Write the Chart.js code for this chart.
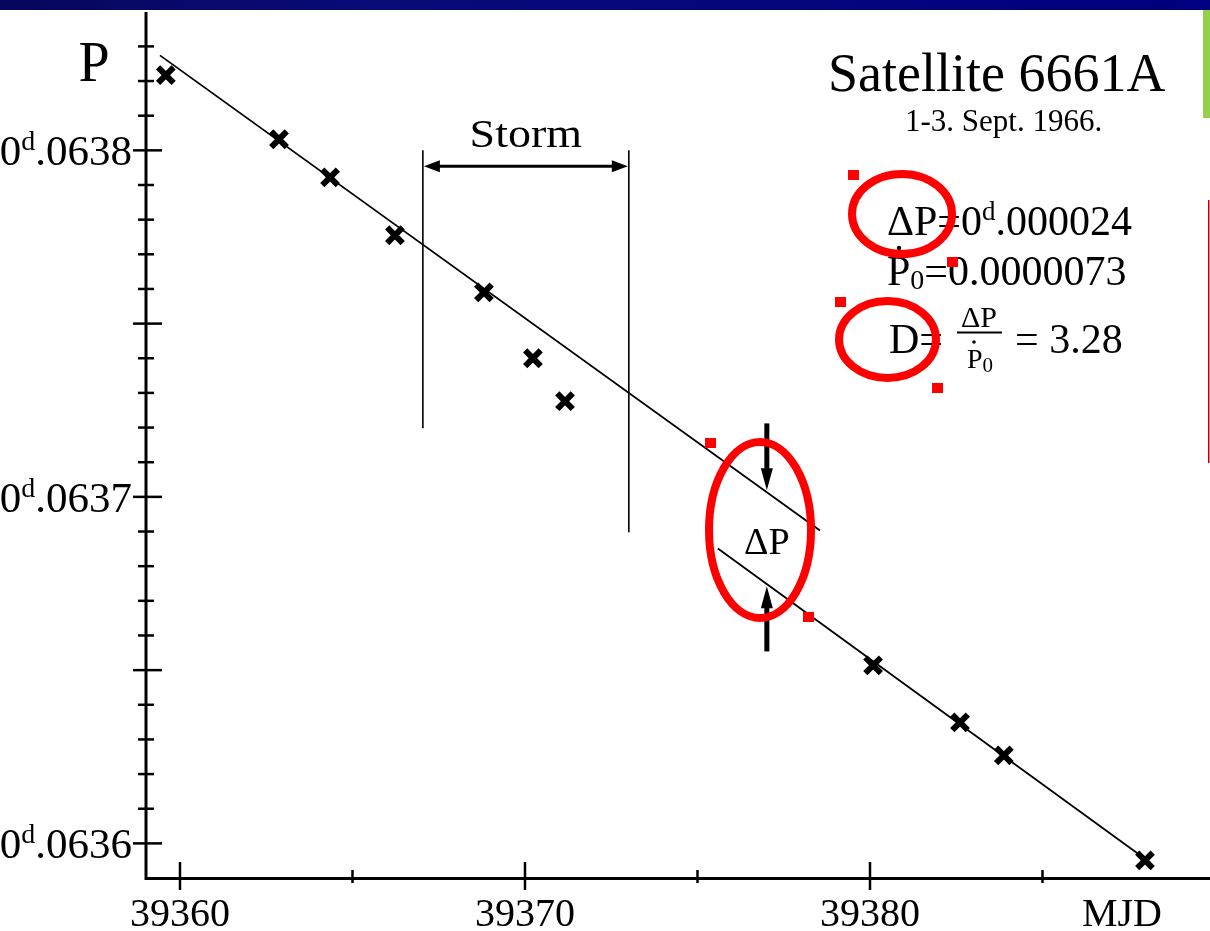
<!DOCTYPE html>
<html>
<head>
<meta charset="utf-8">
<script src="https://cdn.jsdelivr.net/npm/chart.js@4/dist/chart.umd.min.js"></script>
<style>
  html, body { margin: 0; padding: 0; background: #fff; overflow: hidden; }
  #wrap { position: relative; width: 1210px; height: 931px; }
</style>
</head>
<body>
<div id="wrap"><canvas id="chart" width="1210" height="931"></canvas></div>
<script>
// Valores (MJD, periodo en días)
const mjd = [39359.59, 39362.87, 39364.35, 39366.23, 39368.81, 39370.23, 39371.16, 39380.09, 39382.61, 39383.88, 39387.97];
const period = [0.0638217, 0.0638032, 0.0637922, 0.0637755, 0.0637590, 0.0637400, 0.0637276, 0.0636514, 0.0636349, 0.0636254, 0.0635951];

// Rectas de ajuste antes y después de la tormenta
const fitBeforeX = [39359.42, 39378.55];
const fitBeforeY = [0.0638274, 0.0636903];
const fitAfterX = [39375.59, 39388.12];
const fitAfterY = [0.0636851, 0.0635945];

// Tormenta y salto ΔP
const stormX = [39367.04, 39373.01];
const stormTopY = 0.0638;
const stormBottomY = [0.0637198, 0.0636898];
const stormArrowY = 0.0637954;
const jumpX = 39377.01;
const jumpUpperY = [0.0637212, 0.0637019];
const jumpLowerY = [0.0636554, 0.0636742];

// Ejes
const xTicks = [39360, 39370, 39380];
const xMinorTicks = [39365, 39375, 39385];
const yTicks = [0.0636, 0.0637, 0.0638];
const yTickLabels = [".0636", ".0637", ".0638"];
const yMidTicks = [0.06365, 0.06375];
const yMinorTicks = [0.06361, 0.06362, 0.06363, 0.06364, 0.06366, 0.06367, 0.06368, 0.06369,
    0.06371, 0.06372, 0.06373, 0.06374, 0.06376, 0.06377, 0.06378, 0.06379, 0.06381, 0.06382, 0.06383];

const SERIF = '"Liberation Serif", "Times New Roman", serif';

function toPoints(xs, ys) {
    return xs.map((x, i) => ({ x: x, y: ys[i] }));
}

// Dibuja texto compuesto (superíndices / subíndices)
function drawRuns(ctx, x, y, parts) {
    let cx = x;
    parts.forEach(p => {
        ctx.font = p.size + "px " + SERIF;
        ctx.fillText(p.t, cx, y + (p.dy || 0));
        p.x0 = cx;
        p.w = ctx.measureText(p.t).width;
        cx += p.w;
    });
    return cx - x;
}

function runsWidth(ctx, parts) {
    let w = 0;
    parts.forEach(p => {
        ctx.font = p.size + "px " + SERIF;
        w += ctx.measureText(p.t).width;
    });
    return w;
}

function arrowHead(ctx, x, y, dx, dy, len, half) {
    // punta en (x, y) apuntando en la dirección (dx, dy)
    const bx = x - dx * len, by = y - dy * len;
    ctx.beginPath();
    ctx.moveTo(x, y);
    ctx.lineTo(bx - dy * half, by + dx * half);
    ctx.lineTo(bx + dy * half, by - dx * half);
    ctx.closePath();
    ctx.fill();
}

const figurePlugin = {
    id: "figure",
    beforeDraw(chart) {
        const ctx = chart.ctx;
        ctx.save();
        ctx.fillStyle = "#fff";
        ctx.fillRect(0, 0, chart.width, chart.height);
        ctx.restore();
    },
    afterDatasetsDraw(chart) {
        const ctx = chart.ctx;
        const xs = chart.scales.x, ys = chart.scales.y;
        const area = chart.chartArea;
        const px = v => xs.getPixelForValue(v);
        const py = v => ys.getPixelForValue(v);

        ctx.save();
        ctx.fillStyle = "#000";
        ctx.strokeStyle = "#000";

        // ejes
        const ax = area.left + 1, ay = area.bottom;
        ctx.lineWidth = 3;
        ctx.beginPath();
        ctx.moveTo(ax, area.top + 2);
        ctx.lineTo(ax, ay + 1.5);
        ctx.lineTo(area.right, ay + 1.5);
        ctx.stroke();

        // marcas del eje Y
        ctx.lineWidth = 2.5;
        yMinorTicks.forEach(v => {
            const y = py(v);
            ctx.beginPath(); ctx.moveTo(ax - 8, y); ctx.lineTo(ax + 8, y); ctx.stroke();
        });
        yMidTicks.concat(yTicks).forEach(v => {
            const y = py(v);
            ctx.beginPath(); ctx.moveTo(ax - 13, y); ctx.lineTo(ax + 16, y); ctx.stroke();
        });

        // marcas del eje X
        xTicks.forEach(v => {
            const x = px(v);
            ctx.beginPath(); ctx.moveTo(x, ay - 15); ctx.lineTo(x, ay + 13); ctx.stroke();
        });
        xMinorTicks.forEach(v => {
            const x = px(v);
            ctx.beginPath(); ctx.moveTo(x, ay - 7); ctx.lineTo(x, ay + 6); ctx.stroke();
        });

        // etiquetas del eje Y
        ctx.textBaseline = "alphabetic";
        yTicks.forEach((v, i) => {
            const parts = [
                { t: "0", size: 43 },
                { t: "d", size: 28, dy: -15 },
                { t: yTickLabels[i], size: 43 }
            ];
            const w = runsWidth(ctx, parts);
            drawRuns(ctx, ax - 14 - w, py(v) + 15, parts);
        });

        // etiquetas del eje X
        ctx.font = "40px " + SERIF;
        ctx.textAlign = "center";
        xTicks.forEach(v => {
            ctx.fillText(String(v), px(v), 926);
        });
        ctx.fillText("MJD", 1122, 926);
        ctx.font = "56px " + SERIF;
        ctx.fillText("P", 94, 81);

        // tormenta
        ctx.lineWidth = 1.6;
        stormX.forEach((x, i) => {
            ctx.beginPath();
            ctx.moveTo(px(x), py(stormTopY));
            ctx.lineTo(px(x), py(stormBottomY[i]));
            ctx.stroke();
        });
        const sx0 = px(stormX[0]), sx1 = px(stormX[1]), sy = py(stormArrowY);
        ctx.lineWidth = 3;
        ctx.beginPath(); ctx.moveTo(sx0 + 8, sy); ctx.lineTo(sx1 - 8, sy); ctx.stroke();
        arrowHead(ctx, sx0 + 1, sy, -1, 0, 16, 6);
        arrowHead(ctx, sx1 - 1, sy, 1, 0, 16, 6);
        ctx.font = "40px " + SERIF;
        ctx.save();
        ctx.translate((sx0 + sx1) / 2, 147);
        ctx.scale(1.15, 1);
        ctx.fillText("Storm", 0, 0);
        ctx.restore();

        // salto ΔP
        const jx = px(jumpX);
        ctx.lineWidth = 5;
        ctx.beginPath(); ctx.moveTo(jx, py(jumpUpperY[0])); ctx.lineTo(jx, py(jumpUpperY[1]) - 16); ctx.stroke();
        ctx.beginPath(); ctx.moveTo(jx, py(jumpLowerY[0])); ctx.lineTo(jx, py(jumpLowerY[1]) + 16); ctx.stroke();
        arrowHead(ctx, jx, py(jumpUpperY[1]), 0, 1, 22, 6);
        arrowHead(ctx, jx, py(jumpLowerY[1]), 0, -1, 22, 6);
        ctx.font = "38px " + SERIF;
        ctx.fillText("\u0394P", jx, 554);

        // título
        ctx.font = "54px " + SERIF;
        ctx.textAlign = "left";
        ctx.fillText("Satellite 6661A", 828, 91);
        ctx.font = "31px " + SERIF;
        ctx.fillText("1-3. Sept. 1966.", 905, 131);

        // fórmulas
        drawRuns(ctx, 887, 235, [
            { t: "\u0394P=0", size: 42 },
            { t: "d", size: 27, dy: -15 },
            { t: ".000024", size: 42 }
        ]);
        const l2 = [
            { t: "P", size: 42 },
            { t: "0", size: 28, dy: 4 },
            { t: "=0.0000073", size: 42 }
        ];
        drawRuns(ctx, 887, 285, l2);
        ctx.beginPath(); ctx.arc(l2[0].x0 + 12, 248, 2.2, 0, Math.PI * 2); ctx.fill();

        ctx.font = "42px " + SERIF;
        ctx.fillText("D=", 889, 353);
        ctx.font = "30px " + SERIF;
        ctx.textAlign = "center";
        ctx.fillText("\u0394P", 979, 327);
        ctx.lineWidth = 2;
        ctx.beginPath(); ctx.moveTo(957, 332.5); ctx.lineTo(1002, 332.5); ctx.stroke();
        ctx.textAlign = "left";
        const den = [
            { t: "P", size: 28 },
            { t: "0", size: 21, dy: 4 }
        ];
        drawRuns(ctx, 967, 368, den);
        ctx.beginPath(); ctx.arc(den[0].x0 + 7, 342, 1.8, 0, Math.PI * 2); ctx.fill();
        ctx.font = "42px " + SERIF;
        ctx.fillText("= 3.28", 1015, 353);

        // marcas rojas de anotación
        ctx.strokeStyle = "#ff0000";
        ctx.fillStyle = "#ff0000";
        ctx.lineWidth = 8;
        [[760, 530, 51, 88], [902, 214, 50, 40], [887.5, 339.5, 48.5, 38.5]].forEach(e => {
            ctx.beginPath();
            ctx.ellipse(e[0], e[1], e[2], e[3], 0, 0, Math.PI * 2);
            ctx.stroke();
        });
        [[705, 438], [803, 612], [848, 170], [947, 257], [835, 297], [932, 383]].forEach(s => {
            ctx.fillRect(s[0], s[1], 11, 10);
        });

        // barras de la diapositiva
        const g = ctx.createLinearGradient(0, 0, 1210, 0);
        g.addColorStop(0, "#06065c");
        g.addColorStop(0.3, "#0a0a78");
        g.addColorStop(1, "#000080");
        ctx.fillStyle = g;
        ctx.fillRect(0, 0, 1210, 10);
        ctx.fillStyle = "#92d050";
        ctx.fillRect(1203, 10, 7, 108);
        ctx.fillStyle = "#c00000";
        ctx.fillRect(1208, 200, 1.5, 263);

        ctx.restore();
    }
};

const ctx = document.getElementById("chart").getContext("2d");
new Chart(ctx, {
    type: "scatter",
    data: {
        datasets: [
            {
                data: toPoints(mjd, period),
                pointStyle: "crossRot",
                pointRadius: 11,
                borderWidth: 6,
                borderColor: "#000",
                backgroundColor: "#000",
                clip: false
            },
            {
                type: "line",
                data: toPoints(fitBeforeX, fitBeforeY),
                borderColor: "#000",
                borderWidth: 1.8,
                pointRadius: 0,
                clip: false
            },
            {
                type: "line",
                data: toPoints(fitAfterX, fitAfterY),
                borderColor: "#000",
                borderWidth: 1.8,
                pointRadius: 0,
                clip: false
            }
        ]
    },
    options: {
        responsive: false,
        animation: false,
        events: [],
        layout: { autoPadding: false, padding: { left: 145, right: 0, top: 10, bottom: 54 } },
        scales: {
            x: { type: "linear", display: false, min: 39358.986, max: 39389.855 },
            y: { type: "linear", display: false, min: 0.0635903, max: 0.0638405 }
        },
        plugins: {
            legend: { display: false },
            tooltip: { enabled: false }
        }
    },
    plugins: [figurePlugin]
});
</script>
</body>
</html>
